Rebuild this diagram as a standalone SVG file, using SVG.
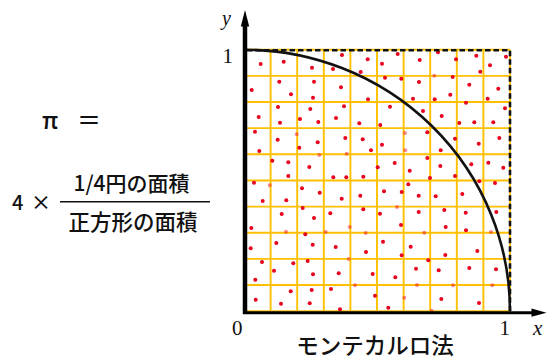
<svg xmlns="http://www.w3.org/2000/svg" width="553" height="360" viewBox="0 0 553 360">
<style>
.grid{stroke:#FFC000;stroke-width:1.9;fill:none}
.d{fill:#E8001C}
.p{fill:#E8001C;opacity:0.45}
.jp{font-family:"Noto Sans CJK JP","Noto Sans",sans-serif;fill:#111;font-weight:500}
.ser{font-family:"Liberation Serif","DejaVu Serif",serif;fill:#111}
</style>
<rect width="553" height="360" fill="#fff"/>
<g id="formula">
<text class="jp" x="42" y="129" font-size="24">π</text>
<text class="jp" x="77" y="129" font-size="24">＝</text>
<text class="jp" x="12" y="210" font-size="20">4</text>
<text class="jp" x="31" y="210" font-size="20">×</text>
<text class="jp" x="131.5" y="191" font-size="21" text-anchor="middle">1/4円の面積</text>
<line x1="60" y1="201.7" x2="210" y2="201.7" stroke="#111" stroke-width="1.5"/>
<text class="jp" x="133" y="230" font-size="21.5" text-anchor="middle">正方形の面積</text>
</g>
<g id="grid">
<path class="grid" d="M244,49.7V311.2M270.6,49.7V311.2M297.2,49.7V311.2M323.8,49.7V311.2M350.4,49.7V311.2M377,49.7V311.2M403.6,49.7V311.2M430.2,49.7V311.2M456.8,49.7V311.2M483.4,49.7V311.2M510,49.7V311.2M244,49.7H510M244,75.85H510M244,102H510M244,128.15H510M244,154.3H510M244,180.45H510M244,206.6H510M244,232.75H510M244,258.9H510M244,285.05H510M244,311.2H510"/>
</g>
<g id="dots">
<circle class="d" cx="260.7" cy="64" r="2"/><circle class="d" cx="283.7" cy="61.7" r="2"/><circle class="d" cx="312" cy="67.7" r="2"/><circle class="d" cx="342" cy="55" r="2"/><circle class="d" cx="367.7" cy="59.3" r="2"/><circle class="d" cx="333" cy="69" r="2"/><circle class="d" cx="360.7" cy="72" r="2"/><circle class="d" cx="251.7" cy="90" r="2"/><circle class="d" cx="279.3" cy="81.7" r="2"/><circle class="d" cx="291" cy="94.3" r="2"/><circle class="d" cx="314" cy="81.7" r="2"/><circle class="d" cx="313" cy="97.7" r="2"/><circle class="d" cx="341" cy="87.3" r="2"/><circle class="d" cx="368" cy="99.3" r="2"/><circle class="d" cx="278" cy="107" r="2"/><circle class="d" cx="310.3" cy="109" r="2"/><circle class="d" cx="344" cy="106.3" r="2"/><circle class="d" cx="258.7" cy="117" r="2"/><circle class="d" cx="280" cy="122.7" r="2"/><circle class="d" cx="300" cy="119" r="2"/><circle class="d" cx="318.3" cy="122" r="2"/><circle class="d" cx="336" cy="118" r="2"/><circle class="d" cx="359.3" cy="123.3" r="2"/><circle class="d" cx="255" cy="131.7" r="2"/><circle class="d" cx="277.7" cy="139.7" r="2"/><circle class="p" cx="296.7" cy="134.3" r="2"/><circle class="d" cx="317.7" cy="142.3" r="2"/><circle class="d" cx="345.3" cy="138" r="2"/><circle class="d" cx="362.7" cy="139.3" r="2"/><circle class="d" cx="259.3" cy="151" r="2"/><circle class="d" cx="299.3" cy="147.7" r="2"/><circle class="p" cx="319.3" cy="155" r="2"/><circle class="p" cx="346.7" cy="153.7" r="2"/><circle class="d" cx="371" cy="150.3" r="2"/><circle class="d" cx="272.3" cy="160.7" r="2"/><circle class="d" cx="288.3" cy="162.3" r="2"/><circle class="d" cx="309.3" cy="167" r="2"/><circle class="d" cx="288.3" cy="176" r="2"/><circle class="d" cx="333.3" cy="177.3" r="2"/><circle class="d" cx="346.3" cy="177.3" r="2"/><circle class="d" cx="363.3" cy="176.7" r="2"/><circle class="d" cx="377.7" cy="167.3" r="2"/>
<circle class="d" cx="397.7" cy="54" r="2"/><circle class="d" cx="382" cy="63.7" r="2"/><circle class="d" cx="419.7" cy="60" r="2"/><circle class="d" cx="438" cy="52.3" r="2"/><circle class="d" cx="456" cy="59.3" r="2"/><circle class="d" cx="476.3" cy="55.7" r="2"/><circle class="d" cx="506" cy="56.7" r="2"/><circle class="d" cx="490" cy="65.3" r="2"/><circle class="d" cx="480.3" cy="71.7" r="2"/><circle class="d" cx="385" cy="77.7" r="2"/><circle class="d" cx="401.3" cy="78.7" r="2"/><circle class="d" cx="419" cy="82" r="2"/><circle class="p" cx="434.3" cy="75.7" r="2"/><circle class="d" cx="452.7" cy="77" r="2"/><circle class="d" cx="469.3" cy="84.7" r="2"/><circle class="d" cx="498.3" cy="88.7" r="2"/><circle class="d" cx="413" cy="98.7" r="2"/><circle class="d" cx="434.7" cy="99.3" r="2"/><circle class="d" cx="450.3" cy="94.7" r="2"/><circle class="d" cx="487.7" cy="98.7" r="2"/><circle class="d" cx="466" cy="102.7" r="2"/><circle class="d" cx="390" cy="106.7" r="2"/><circle class="d" cx="423" cy="111" r="2"/><circle class="d" cx="441.7" cy="116" r="2"/><circle class="d" cx="505" cy="108.3" r="2"/><circle class="d" cx="380.3" cy="125" r="2"/><circle class="d" cx="459.3" cy="123" r="2"/><circle class="d" cx="474.3" cy="122.3" r="2"/><circle class="d" cx="493.3" cy="122.3" r="2"/><circle class="p" cx="405" cy="133" r="2"/><circle class="d" cx="427.3" cy="132.3" r="2"/><circle class="d" cx="455" cy="138.7" r="2"/><circle class="d" cx="499.3" cy="138" r="2"/><circle class="d" cx="382" cy="144.7" r="2"/><circle class="p" cx="405.3" cy="150.3" r="2"/><circle class="d" cx="440.7" cy="150.3" r="2"/><circle class="d" cx="478.7" cy="143.7" r="2"/><circle class="d" cx="427.3" cy="158" r="2"/><circle class="d" cx="394.7" cy="163" r="2"/><circle class="d" cx="440.3" cy="166" r="2"/><circle class="d" cx="471.3" cy="164.3" r="2"/><circle class="d" cx="488.3" cy="162.7" r="2"/><circle class="d" cx="503.3" cy="167.7" r="2"/><circle class="d" cx="409.7" cy="170.7" r="2"/><circle class="d" cx="455" cy="176" r="2"/><circle class="d" cx="430" cy="178" r="2"/>
<circle class="d" cx="254" cy="182.7" r="2"/><circle class="p" cx="269.7" cy="185.3" r="2"/><circle class="d" cx="302" cy="188.3" r="2"/><circle class="d" cx="319.7" cy="192.7" r="2"/><circle class="d" cx="262.7" cy="201" r="2"/><circle class="d" cx="286.3" cy="200.3" r="2"/><circle class="d" cx="341.7" cy="198.7" r="2"/><circle class="d" cx="360.3" cy="195.7" r="2"/><circle class="d" cx="302.7" cy="208" r="2"/><circle class="d" cx="281.7" cy="214" r="2"/><circle class="d" cx="314" cy="218" r="2"/><circle class="d" cx="330.3" cy="213.3" r="2"/><circle class="d" cx="363.3" cy="209.3" r="2"/><circle class="d" cx="380" cy="213.7" r="2"/><circle class="d" cx="251.3" cy="228" r="2"/><circle class="p" cx="286" cy="231.7" r="2"/><circle class="d" cx="305.3" cy="234.3" r="2"/><circle class="p" cx="325.7" cy="232" r="2"/><circle class="p" cx="349.7" cy="227" r="2"/><circle class="p" cx="365.7" cy="233" r="2"/><circle class="d" cx="250.7" cy="248.3" r="2"/><circle class="d" cx="276.3" cy="243" r="2"/><circle class="d" cx="312.7" cy="244.7" r="2"/><circle class="d" cx="335.7" cy="247" r="2"/><circle class="d" cx="366" cy="252" r="2"/><circle class="d" cx="262" cy="262" r="2"/><circle class="d" cx="293.3" cy="263.3" r="2"/><circle class="d" cx="307.7" cy="261" r="2"/><circle class="p" cx="348.7" cy="259" r="2"/><circle class="d" cx="274" cy="270.7" r="2"/><circle class="d" cx="313" cy="274.3" r="2"/><circle class="d" cx="338.7" cy="273.3" r="2"/><circle class="d" cx="372.7" cy="274" r="2"/><circle class="d" cx="255.3" cy="279.7" r="2"/><circle class="p" cx="355" cy="285.3" r="2"/><circle class="d" cx="290.7" cy="291.3" r="2"/><circle class="d" cx="311.7" cy="290" r="2"/><circle class="d" cx="331" cy="289" r="2"/><circle class="d" cx="375" cy="295.7" r="2"/><circle class="d" cx="255.7" cy="299.7" r="2"/><circle class="d" cx="281" cy="303.7" r="2"/><circle class="d" cx="309.7" cy="303.3" r="2"/><circle class="d" cx="340" cy="309.3" r="2"/>
<circle class="d" cx="408.3" cy="184.3" r="2"/><circle class="d" cx="384" cy="191.3" r="2"/><circle class="d" cx="401.7" cy="192" r="2"/><circle class="d" cx="418.7" cy="195.7" r="2"/><circle class="d" cx="435.7" cy="196.3" r="2"/><circle class="d" cx="462.3" cy="194" r="2"/><circle class="d" cx="479.3" cy="181.3" r="2"/><circle class="d" cx="495" cy="183" r="2"/><circle class="p" cx="397" cy="207" r="2"/><circle class="d" cx="418.7" cy="212" r="2"/><circle class="d" cx="444.3" cy="210" r="2"/><circle class="d" cx="465.7" cy="212.7" r="2"/><circle class="d" cx="496.3" cy="212" r="2"/><circle class="d" cx="401" cy="225" r="2"/><circle class="d" cx="445.7" cy="227" r="2"/><circle class="d" cx="466" cy="230.3" r="2"/><circle class="p" cx="424.3" cy="232.7" r="2"/><circle class="p" cx="491" cy="232" r="2"/><circle class="d" cx="383" cy="241.7" r="2"/><circle class="d" cx="410.7" cy="246.7" r="2"/><circle class="d" cx="477.3" cy="251" r="2"/><circle class="d" cx="401.7" cy="255.3" r="2"/><circle class="d" cx="445.3" cy="255" r="2"/><circle class="d" cx="428.3" cy="260.3" r="2"/><circle class="d" cx="416" cy="268.7" r="2"/><circle class="d" cx="438.7" cy="270.3" r="2"/><circle class="d" cx="469.3" cy="268" r="2"/><circle class="d" cx="496" cy="269.3" r="2"/><circle class="d" cx="395.3" cy="277.3" r="2"/><circle class="p" cx="417" cy="285" r="2"/><circle class="p" cx="453" cy="285.3" r="2"/><circle class="p" cx="492.3" cy="285.3" r="2"/><circle class="p" cx="404.3" cy="297.7" r="2"/><circle class="d" cx="441.3" cy="299" r="2"/><circle class="d" cx="479" cy="303" r="2"/><circle class="d" cx="388.3" cy="307.7" r="2"/><circle class="p" cx="431.7" cy="310.7" r="2"/>
</g>
<g id="curve">
<path d="M244,49.7 A266,261.5 0 0 1 510,311.2" fill="none" stroke="#111" stroke-width="2.6"/>
<path d="M247,50.3 H510 V311" fill="none" stroke="#111" stroke-width="2.6" stroke-dasharray="5.5 3"/>
</g>
<g id="axes">
<line x1="245" y1="314" x2="245" y2="24" stroke="#000" stroke-width="4.5"/>
<polygon points="245,10 240.8,26.5 249.2,26.5" fill="#000"/>
<line x1="243" y1="312.7" x2="533" y2="312.7" stroke="#000" stroke-width="3"/>
<polygon points="546.5,312.7 531.5,308.6 531.5,316.8" fill="#000"/>
</g>
<g id="labels">
<text class="ser" x="222" y="25" font-size="20" font-style="italic">y</text>
<text class="ser" x="222.5" y="63" font-size="21">1</text>
<text class="ser" x="232" y="335" font-size="21">0</text>
<text class="ser" x="499.5" y="335" font-size="21">1</text>
<text class="ser" x="533" y="335" font-size="21" font-style="italic">x</text>
<text class="jp" x="375" y="354" font-size="22.5" text-anchor="middle">モンテカルロ法</text>
</g>
</svg>
